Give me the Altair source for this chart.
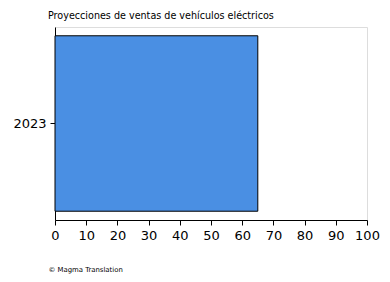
import altair as alt
import pandas as pd

years = ["2023"]
sales = [65]
title_text = "Proyecciones de ventas de vehículos eléctricos"
footnote = "© Magma Translation"
x_ticks = [0, 10, 20, 30, 40, 50, 60, 70, 80, 90, 100]

df = pd.DataFrame({"year": years, "sales": sales})

chart = alt.Chart(df).mark_bar(
    color="#4A8FE3", stroke="black", strokeWidth=1
).encode(
    x=alt.X("sales:Q",
            scale=alt.Scale(domain=[0, 100], nice=False, zero=True),
            axis=alt.Axis(values=x_ticks, title=footnote, grid=False,
                          labelFont="DejaVu Sans", labelFontSize=13, labelColor="black",
                          labelPadding=4, labelFlush=False, labelOverlap=False,
                          tickColor="black", tickSize=5, domainColor="black",
                          titleFont="DejaVu Sans", titleFontSize=6.9, titleFontWeight="normal",
                          titleColor="black", titleAnchor="start", titleAlign="left",
                          titleX=-7, titleY=51, titleBaseline="alphabetic")),
    y=alt.Y("year:N",
            scale=alt.Scale(paddingInner=0, paddingOuter=0.05),
            axis=alt.Axis(title=None, labelFont="DejaVu Sans", labelFontSize=13,
                          labelColor="black", labelPadding=4, tickColor="black", tickSize=5,
                          domainColor="black", labelAngle=0)),
).properties(
    width=312, height=193,
    title=alt.TitleParams(title_text, font="DejaVu Sans", fontSize=9.6, fontWeight="normal",
                          color="black", anchor="start", frame="group", dx=-7, offset=6),
    autosize=alt.AutoSizeParams(type="none"),
    padding={"left": 55, "top": 27, "right": 23, "bottom": 62},
).configure_view(stroke="black", strokeWidth=1).configure(background="white")

chart.save("out.html", embed_options={"renderer": "svg", "actions": False})
